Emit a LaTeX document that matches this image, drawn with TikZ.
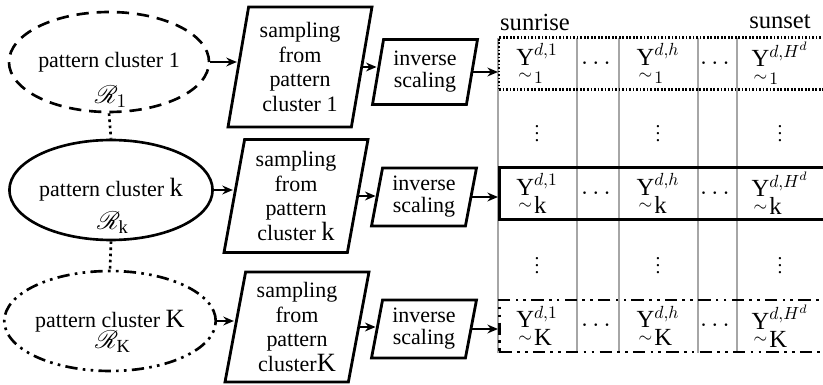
\documentclass[tikz,border=0pt]{standalone}
\usepackage{amsmath,amssymb,mathrsfs}
\usepackage{fontspec}
\setmainfont{Liberation Serif}
\usetikzlibrary{arrows.meta,shapes.geometric}

\tikzset{
  clus/.style={draw,ellipse,line width=1.5pt,minimum width=3.85cm,minimum height=2.0cm,inner sep=0pt,font=\fontsize{12.5}{14}\selectfont},
  samp/.style={draw,trapezium,trapezium left angle=77,trapezium right angle=103,trapezium stretches body,line width=1.6pt,minimum width=2.88cm,minimum height=2.3cm,inner sep=0pt,align=center,font=\fontsize{12.5}{14}\selectfont},
  inv/.style={draw,trapezium,trapezium left angle=75,trapezium right angle=105,trapezium stretches body,line width=1.6pt,minimum width=2.1cm,minimum height=1.2cm,inner sep=0pt,align=center,font=\fontsize{12.5}{12.5}\selectfont},
  rowbox/.style={draw,minimum width=6.6cm,minimum height=1.04cm,anchor=west,inner sep=0pt},
  arr/.style={-{Stealth[length=6pt,width=5pt]},line width=1.3pt},
  grid/.style={gray!70,line width=0.6pt},
  dashdotdot/.style={dash pattern=on 7pt off 3pt on 1.5pt off 3pt on 1.5pt off 3pt},
  cell/.style={font=\fontsize{14}{14}\selectfont},
  vdot/.style={inner sep=0pt,font=\fontsize{11}{11}\selectfont},
  calR/.style={font=\fontsize{15}{15}\selectfont}
}
\newcommand{\Ycell}[2]{$\underset{\sim}{\mathrm{Y}}_{#1}^{#2}$}
\newcommand{\bigk}[1]{{\fontsize{15}{15}\selectfont #1}}

\begin{document}
\begin{tikzpicture}[x=0.02cm,y=-0.02cm]
\useasboundingbox (0,0) rectangle (823,385);
\node[clus,dashed,dash pattern=on 7pt off 4.5pt] (c1) at (109,62) {pattern cluster 1};
\node[clus] (ck) at (111,190) {pattern cluster \bigk{k}};
\node[clus,dashdotdot] (cK) at (110,321) {pattern cluster \bigk{K}};
\node[calR] (r1) at (111,97) {$\mathscr{R}_1$};
\node[calR] (rk) at (113,223) {$\mathscr{R}_{\mathrm{k}}$};
\node[calR] (rK) at (113,342) {$\mathscr{R}_{\mathrm{K}}$};
\draw[dotted,line width=1.5pt] (c1.south) -- (ck.north);
\draw[dotted,line width=1.5pt] (ck.south) -- (cK.north);
\node[samp,minimum height=2.4cm] (s1) at (300,67) {sampling\\from\\pattern\\cluster 1};
\node[samp,minimum height=2.26cm] (sk) at (296,196) {sampling\\from\\pattern\\cluster \bigk{k}};
\node[samp,minimum height=2.2cm] (sK) at (297,327) {sampling\\from\\pattern\\cluster\bigk{K}};
\node[inv,minimum height=1.3cm] (i1) at (425,72) {inverse\\scaling};
\node[inv,minimum height=1.16cm] (ik) at (424,197) {inverse\\scaling};
\node[inv,minimum height=1.16cm] (iK) at (424,329) {inverse\\scaling};
\foreach \x in {498,577,619,698,737} \draw[grid] (\x,38) -- (\x,353);
\node[rowbox,dotted,line width=1.3pt,dash pattern=on 1pt off 1pt] (t1) at (498,63.5) {};
\node[rowbox,line width=1.8pt] (tk) at (498,193.5) {};
\node[rowbox,dashdotdot,line width=1.6pt] (tK) at (498,326) {};
\node[font=\fontsize{14}{14}\selectfont] (rise) at (535,22) {sunrise};
\node[font=\fontsize{14}{14}\selectfont] (set) at (780,22) {sunset};
\foreach \r/\y/\s in {1/63.5/1,k/193.5/\textstyle\mathrm{k},K/326/\textstyle\mathrm{K}} {
  \node[cell] (y\r a) at (537,\y) {\Ycell{\s}{d,1}};
  \node[cell] (y\r b) at (598,\y) {$\cdots$};
  \node[cell] (y\r c) at (658,\y) {\Ycell{\s}{d,h}};
  \node[cell] (y\r d) at (717,\y) {$\cdots$};
  \node[cell] (y\r e) at (780,\y) {\Ycell{\s}{d,H^d}};
}
\foreach \y/\n in {128/u,260/v} {
  \node[vdot] (\n a) at (537,\y) {$\vdots$};
  \node[vdot] (\n c) at (658,\y) {$\vdots$};
  \node[vdot] (\n e) at (780,\y) {$\vdots$};
}
\draw[arr] (c1.east) -- (c1.east -| s1.west); \draw[arr] (s1.east) -- (s1.east -| i1.west); \draw[arr] (i1.east) -- (i1.east -| t1.west);
\draw[arr] (ck.east) -- (ck.east -| sk.west); \draw[arr] (sk.east) -- (sk.east -| ik.west); \draw[arr] (ik.east) -- (ik.east -| tk.west);
\draw[arr] (cK.east) -- (cK.east -| sK.west); \draw[arr] (sK.east) -- (sK.east -| iK.west); \draw[arr] (iK.east) -- (iK.east -| tK.west);
\end{tikzpicture}
\end{document}
